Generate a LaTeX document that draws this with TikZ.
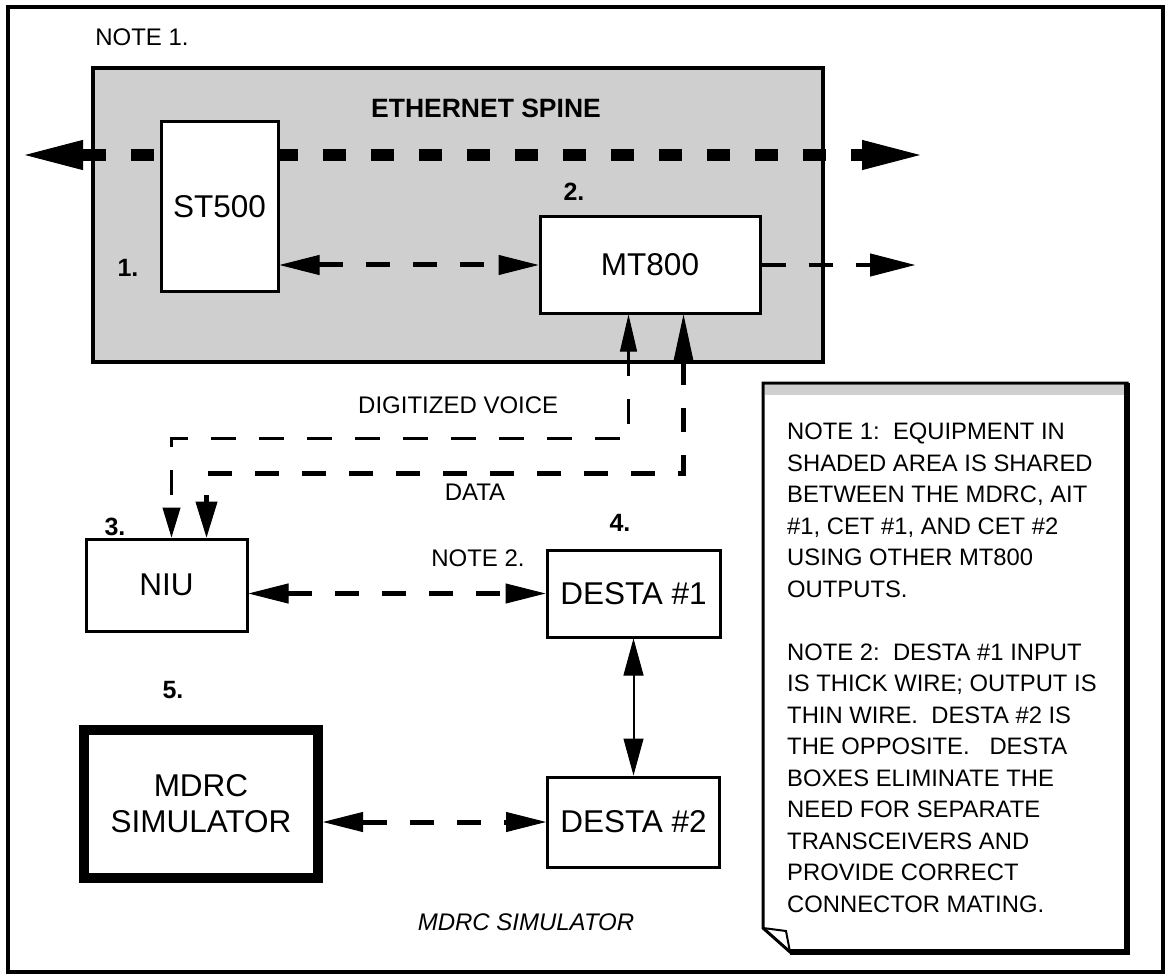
\documentclass[tikz,border=0pt]{standalone}
\usepackage{fontspec}
\setmainfont{Liberation Sans}
\usetikzlibrary{arrows.meta,positioning}
\definecolor{Shade}{HTML}{CFCFCF}

\begin{document}
\begin{tikzpicture}[x=1pt,y=-1pt,
 unit/.style={draw,line width=3pt,fill=white,inner sep=0pt,align=center,font=\fontsize{31.5}{36}\selectfont},
 tag/.style={inner sep=0pt,font=\fontsize{25}{30}\selectfont\bfseries},
 caption/.style={inner sep=0pt,font=\fontsize{24}{28}\selectfont},
 notetext/.style={inner sep=0pt,align=left,font=\fontsize{23.8}{31.5}\selectfont},
 bus/.style={line width=12pt,dash pattern=on 23pt off 25pt,{Triangle[length=58pt,width=30pt,line width=1pt]}-{Triangle[length=58pt,width=30pt,line width=1pt]}},
 link/.style={line width=5pt,dash pattern=on 24pt off 23pt,{Triangle[length=40pt,width=20pt,line width=1pt]}-{Triangle[length=40pt,width=20pt,line width=1pt]}},
 feed/.style={line width=4.5pt,dash pattern=on 24pt off 23pt,-{Triangle[length=45pt,width=23pt,line width=1pt]}},
 voice/.style={line width=3pt,dash pattern=on 25pt off 23pt,{Triangle[length=37pt,width=17pt,line width=1pt]}-{Triangle[length=30pt,width=18pt,line width=1pt]}},
 data/.style={line width=5pt,dash pattern=on 24pt off 23pt,{Triangle[length=47pt,width=20pt,line width=1pt]}-{Triangle[length=36pt,width=22pt,line width=1pt]}},
 wire/.style={line width=2pt,{Triangle[length=37pt,width=20pt,line width=1pt]}-{Triangle[length=37pt,width=20pt,line width=1pt]}}]
 \useasboundingbox (0,0) rectangle (1167,976);
 \draw[line width=3.5pt] (8,7) rectangle (1163,972);
 \node[caption] (note1) at (142,37) {NOTE 1.};
 % shared equipment area
 \node[draw,line width=4.5pt,fill=Shade,inner sep=0pt,minimum width=730pt,minimum height=294pt] (lan) at (458,215) {};
 \node[inner sep=0pt,font=\fontsize{26.5}{30}\selectfont\bfseries] (spinelbl) at (486,108) {ETHERNET SPINE};
 \coordinate (wl) at (25,155);
 \coordinate (wr) at (920,155);
 \draw[bus] (wl) -- (wr);
 \node[unit,minimum width=117pt,minimum height=170pt] (st) at (219.5,207) {ST500};
 \node[unit,minimum width=220pt,minimum height=96pt] (mt) at (650,265) {MT800};
 \node[tag] (n1) at (128,268) {1.};
 \node[tag] (n2) at (574,192) {2.};
 \coordinate (mtout) at (915,265);
 \draw[link] (st.east |- mt.west) -- (mt.west);
 \draw[feed] (mt.east) -- (mtout);
 % lower equipment
 \node[unit,minimum width=161pt,minimum height=92pt] (niu) at (166.5,585) {NIU};
 \node[unit,minimum width=173pt,minimum height=87pt] (destaA) at (633.5,593.5) {DESTA \#1};
 \node[unit,minimum width=172pt,minimum height=90pt,below=137pt of destaA] (destaB) {DESTA \#2};
 \node[unit,line width=10pt,minimum width=234pt,minimum height=148pt] (mdrc) at (201,804) {MDRC\\SIMULATOR};
 \node[tag] (n3) at (115,527) {3.};
 \node[tag] (n4) at (620,523) {4.};
 \node[tag] (n5) at (173,690) {5.};
 \draw[voice] ([xshift=90pt]mt.south west) -- ++(0,124) -| ([xshift=87pt]niu.north west);
 \draw[data] ([xshift=145pt]mt.south west) -- ++(0,159) -| ([xshift=122pt]niu.north west);
 \node[caption,anchor=west] (voicelbl) at (358,405) {DIGITIZED VOICE};
 \node[caption] (datalbl) at (475,492) {DATA};
 \node[caption] (note2) at (478,558) {NOTE 2.};
 \draw[link] (niu.east |- destaA.west) -- (destaA.west);
 \draw[wire] (destaA.south) -- (destaB.north);
 \draw[link] (mdrc.east |- destaB.west) -- (destaB.west);
 \node[inner sep=0pt,font=\fontsize{24}{28}\selectfont\itshape] (title) at (526,922) {MDRC SIMULATOR};
 % notes sheet
 \draw[line width=3pt,fill=white] (763,383) -- (1127,383) -- (1127,952) -- (790,952) -- (763,928) -- cycle;
 \fill[Shade] (764.5,384.5) rectangle (1125.5,395);
 \draw[line width=6pt] (1127,383) -- (1127,952) -- (790,952);
 \draw[line width=2pt] (763,928) -- (786,931) -- (790,952);
 \node[notetext,anchor=north west] (notes) at (787,423) {NOTE 1:\ \ EQUIPMENT IN\\
 SHADED AREA IS SHARED\\
 BETWEEN THE MDRC, AIT\\
 \#1, CET \#1, AND CET \#2\\
 USING OTHER MT800\\
 OUTPUTS.\\[31.5pt]
 NOTE 2:\ \ DESTA \#1 INPUT\\
 IS THICK WIRE; OUTPUT IS\\
 THIN WIRE.\ \ DESTA \#2 IS\\
 THE OPPOSITE.\ \ \ DESTA\\
 BOXES ELIMINATE THE\\
 NEED FOR SEPARATE\\
 TRANSCEIVERS AND\\
 PROVIDE CORRECT\\
 CONNECTOR MATING.};
\end{tikzpicture}
\end{document}
